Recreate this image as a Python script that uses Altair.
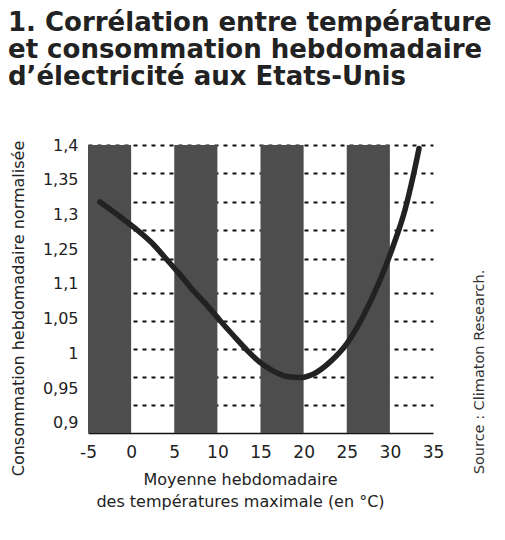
import altair as alt
import pandas as pd

# ---- data ----
temps = [-3.61, -1.52, 0.45, 2.42, 4.28, 5.67, 7.17, 8.80, 10.30, 11.81, 13.43,
         14.94, 16.45, 18.07, 19.58, 21.09, 23.07, 25.03, 26.88, 28.86, 30.36,
         31.75, 32.68, 33.38]
conso = [1.300, 1.277, 1.254, 1.228, 1.197, 1.177, 1.154, 1.128, 1.101, 1.075,
         1.048, 1.026, 1.011, 1.001, 0.999, 1.005, 1.027, 1.060, 1.108, 1.169,
         1.222, 1.286, 1.344, 1.394]
band_start = [-5, 5, 15, 25]
band_end = [0, 10, 20, 30]
x_ticks = [-5, 0, 5, 10, 15, 20, 25, 30, 35]
grid_values = [0.95, 1.0, 1.05, 1.1, 1.15, 1.2, 1.25, 1.3, 1.35, 1.4]
y_labels = ["0,9", "0,95", "1", "1,05", "1,1", "1,25", "1,3", "1,35", "1,4"]
title_lines = ["1. Corrélation entre température",
               "et consommation hebdomadaire",
               "d\u2019électricité aux Etats-Unis"]
x_title = ["Moyenne hebdomadaire", "des températures maximale (en °C)"]
y_title = "Consommation hebdomadaire normalisée"
source_text = ["Source : Climaton Research."]

FONT = "DejaVu Sans"
W, H = 345, 288

curve = pd.DataFrame({"t": temps, "c": conso})
bands = pd.DataFrame({"start": band_start, "end": band_end})
labs = pd.DataFrame({"idx": list(range(len(y_labels))), "lab": y_labels})
src = pd.DataFrame({"s": source_text})

xscale = alt.Scale(domain=[-5, 35], nice=False, zero=False)
x_axis = alt.Axis(
    values=x_ticks, ticks=False, grid=False, labelFlush=False,
    labelExpr="datum.value < 0 ? '-' + abs(datum.value) : '' + datum.value",
    labelFontSize=17, labelPadding=11, labelColor="#222",
    domainColor="#111", domainWidth=1.5,
    title=x_title, titleFontSize=16, titleFontWeight="normal", titleColor="#222",
    titleX=152, titleY=51, titleAlign="center", titleBaseline="alphabetic",
    titleLineHeight=22,
)

# the printed grid is slightly uneven (larger gap between 1.15 and 1.2)
yscale = alt.Scale(domain=[0.9, 1.15, 1.2, 1.4], range=[H, 148, 114, 0],
                   nice=False, zero=False)

rects = alt.Chart(bands).mark_rect(color="#4d4d4d").encode(
    x=alt.X("start:Q", scale=xscale, axis=x_axis),
    x2="end:Q",
)

line = alt.Chart(curve).mark_line(
    color="#222222", strokeWidth=5.5, interpolate="monotone", strokeCap="round"
).encode(
    x=alt.X("t:Q", scale=xscale),
    y=alt.Y("c:Q", scale=yscale,
            axis=alt.Axis(orient="left", values=grid_values, grid=True,
                          gridDash=[4, 5], gridColor="#111", gridWidth=1.8,
                          labels=False, ticks=False, domain=False, title="")),
)

label_expr = "[" + ",".join("'" + s + "'" for s in y_labels) + "][datum.value]"
ylabels = alt.Chart(labs).mark_point(opacity=0).encode(
    x=alt.value(0),
    y=alt.Y("idx:Q",
            scale=alt.Scale(domain=[-0.288, 8], nice=False, zero=False),
            axis=alt.Axis(orient="left", values=list(range(len(y_labels))),
                          labelExpr=label_expr, labelFontSize=16, labelPadding=10,
                          labelColor="#222", ticks=False, domain=False, grid=False,
                          title=y_title, titleFontSize=16, titleFontWeight="normal",
                          titleColor="#222", titleX=-65, titleY=163, titleAngle=270,
                          titleAlign="center", titleBaseline="alphabetic")),
)

source = alt.Chart(src).mark_text(
    angle=270, fontSize=14.5, color="#333", font=FONT
).encode(
    x=alt.value(392), y=alt.value(227), text="s:N"
)

chart = alt.layer(rects, line, ylabels, source).resolve_scale(
    y="independent"
).properties(
    width=W, height=H,
    autosize=alt.AutoSizeParams(type="none"),
    padding={"left": 80, "top": 137, "right": 60, "bottom": 90},
    title=alt.TitleParams(text=title_lines, anchor="start", frame="group",
                          fontSize=26, font=FONT, fontWeight="bold",
                          color="#222", lineHeight=27, offset=47, dx=-80),
).configure_view(strokeWidth=0).configure_axis(
    labelFont=FONT, titleFont=FONT
)

chart.save("out.html", embed_options={"renderer": "svg", "actions": False})
